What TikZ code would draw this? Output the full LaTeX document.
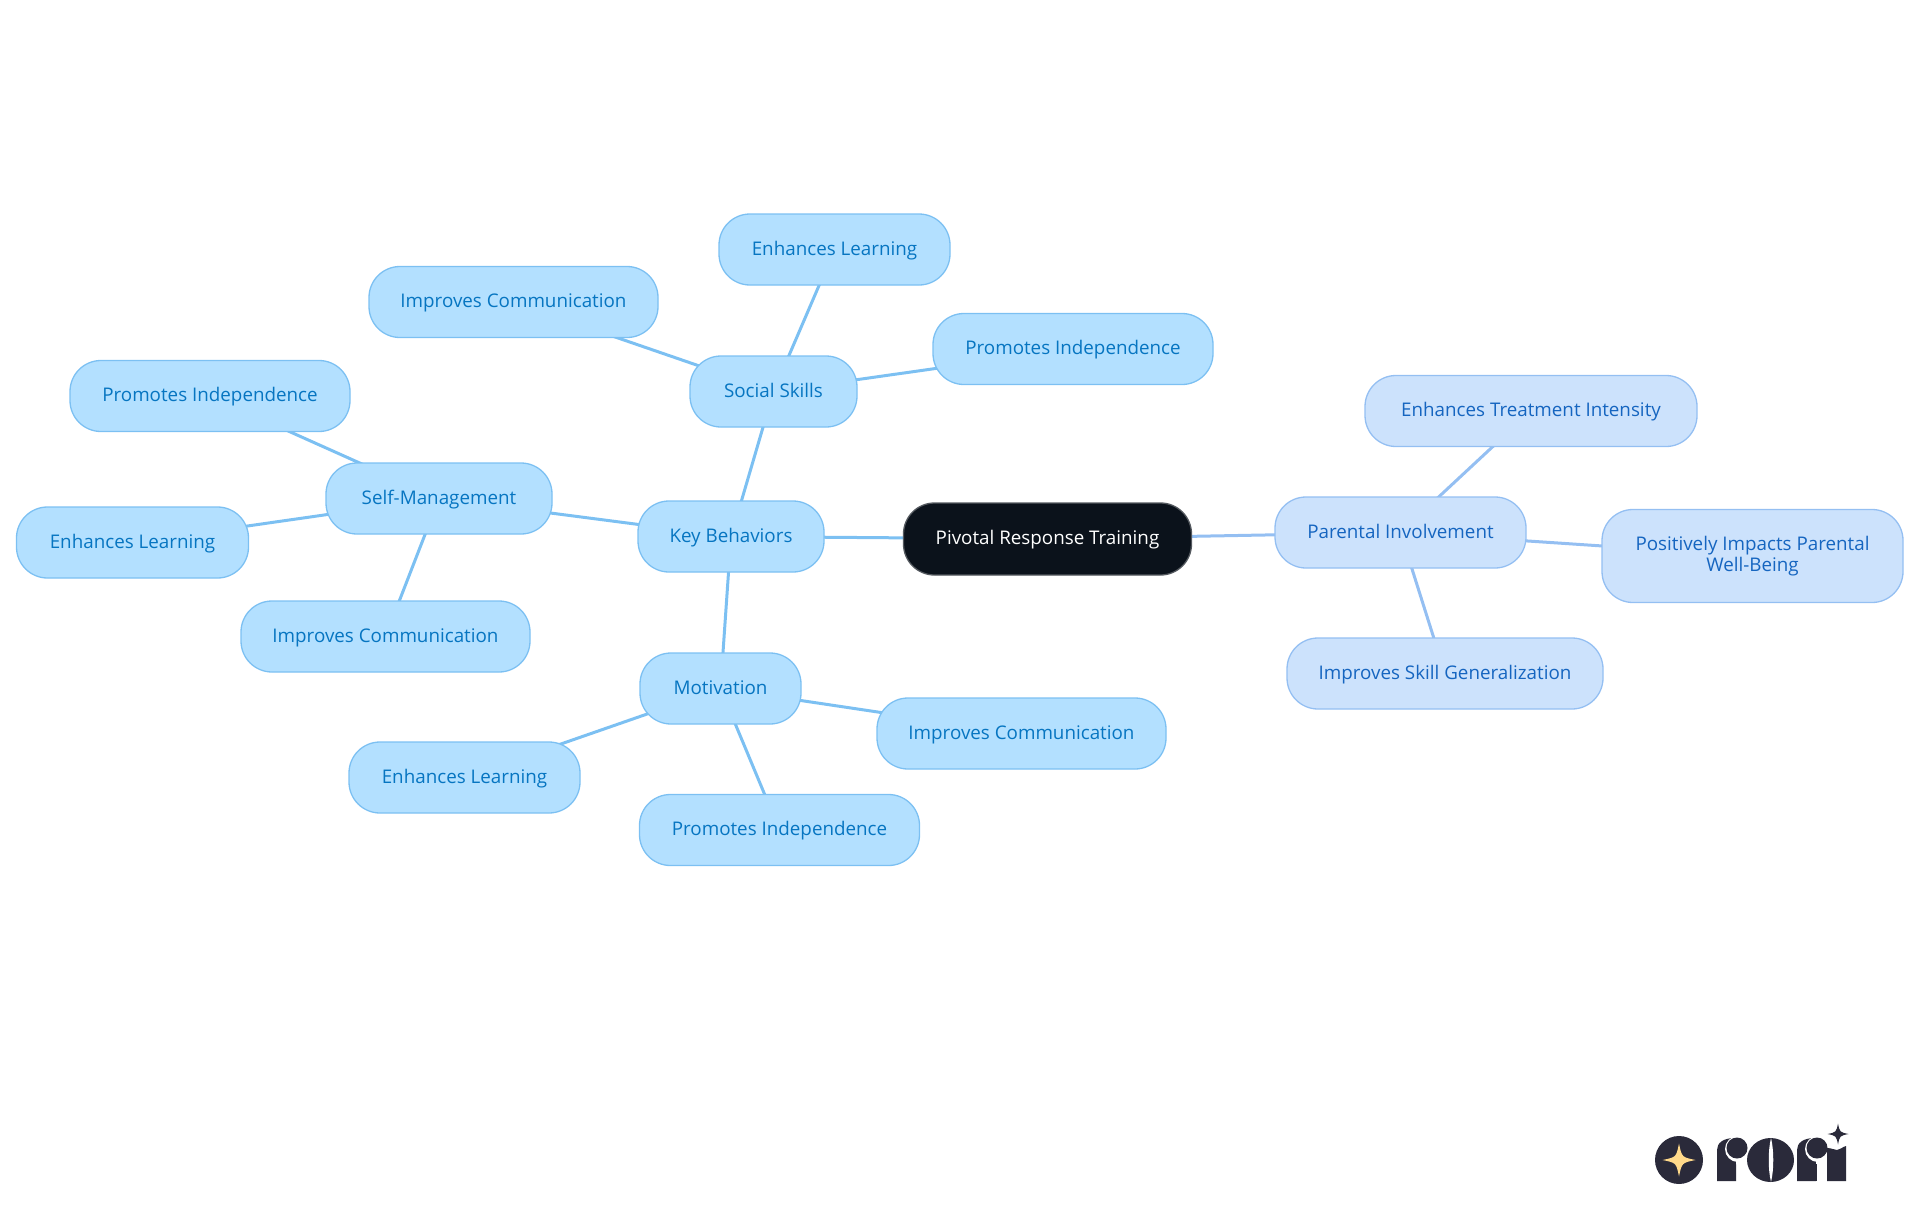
\documentclass[tikz,border=0pt]{standalone}
\usepackage{fontspec}
\setmainfont{Open Sans}
\usetikzlibrary{backgrounds}
\definecolor{leaffill}{HTML}{B3E0FF}
\definecolor{leafline}{HTML}{7CC0F2}
\definecolor{leaftext}{HTML}{0675C1}
\definecolor{parfill}{HTML}{CCE2FC}
\definecolor{parline}{HTML}{94BFF2}
\definecolor{partext}{HTML}{1565C0}
\definecolor{rootfill}{HTML}{0B121B}
\definecolor{logodark}{HTML}{2A2A3A}
\definecolor{logogold}{HTML}{FFD98A}
\tikzset{
  box/.style={rectangle,rounded corners=31pt,minimum height=71pt,inner sep=0pt,line width=1.3pt,align=center,font=\fontsize{18.8}{21}\selectfont},
  oneline/.style={text height=15pt,text depth=4pt},
  leaf/.style={box,oneline,draw=leafline,fill=leaffill,text=leaftext},
  par/.style={box,oneline,draw=parline,fill=parfill,text=partext},
  partwo/.style={box,draw=parline,fill=parfill,text=partext},
  rootbox/.style={box,oneline,draw=rootfill!70!white,fill=rootfill,text=white},
  link/.style={line width=3pt,draw=leafline},
  plink/.style={line width=3pt,draw=parline},
  logo/.style={fill=logodark,draw=none},
  halo/.style={fill=white,draw=none}
}
\newcommand{\fourstar}[4]{\fill[#4] (#1,#2-#3) .. controls (#1+0.17*#3,#2-0.17*#3) .. (#1+#3,#2) .. controls (#1+0.17*#3,#2+0.17*#3) .. (#1,#2+#3) .. controls (#1-0.17*#3,#2+0.17*#3) .. (#1-#3,#2) .. controls (#1-0.17*#3,#2-0.17*#3) .. cycle;}
\begin{document}
\begin{tikzpicture}[x=1pt,y=-1pt]
\useasboundingbox (0,0) rectangle (1920,1215);
\node[rootbox,minimum width=288pt,minimum height=72pt] (root) at (1047.5,539) {Pivotal Response Training};
\node[leaf,minimum width=186pt] (key) at (731,536.5) {Key Behaviors};
\node[leaf,minimum width=167pt] (social) at (773.5,391.5) {Social Skills};
\node[leaf,minimum width=226pt] (selfm) at (439,498.5) {Self-Management};
\node[leaf,minimum width=161pt] (motiv) at (720.5,688.5) {Motivation};
\node[leaf,minimum width=231pt] (sL) at (834.5,249.5) {Enhances Learning};
\node[leaf,minimum width=289pt] (sC) at (513.5,302) {Improves Communication};
\node[leaf,minimum width=280pt] (sP) at (1073,349) {Promotes Independence};
\node[leaf,minimum width=280pt] (mP) at (210,396) {Promotes Independence};
\node[leaf,minimum width=232pt] (mL) at (132.5,542.5) {Enhances Learning};
\node[leaf,minimum width=289pt] (mC) at (385.5,636.5) {Improves Communication};
\node[leaf,minimum width=231pt] (vL) at (464.5,777.5) {Enhances Learning};
\node[leaf,minimum width=280pt] (vP) at (779.5,830) {Promotes Independence};
\node[leaf,minimum width=289pt] (vC) at (1021.5,733.5) {Improves Communication};
\node[par,minimum width=251pt] (par) at (1400.5,532.5) {Parental Involvement};
\node[par,minimum width=332pt] (pT) at (1531,411) {Enhances Treatment Intensity};
\node[partwo,minimum width=301pt,minimum height=93pt] (pW) at (1752.5,556) {Positively Impacts Parental\\Well-Being};
\node[par,minimum width=316pt] (pS) at (1445,673.5) {Improves Skill Generalization};
\begin{scope}[on background layer]
\draw[link] (root.center) -- (key.center);
\draw[link] (key.center) -- (social.center);
\draw[link] (key.center) -- (selfm.center);
\draw[link] (key.center) -- (motiv.center);
\draw[link] (social.center) -- (sL.center);
\draw[link] (social.center) -- (sC.center);
\draw[link] (social.center) -- (sP.center);
\draw[link] (selfm.center) -- (mP.center);
\draw[link] (selfm.center) -- (mL.center);
\draw[link] (selfm.center) -- (mC.center);
\draw[link] (motiv.center) -- (vL.center);
\draw[link] (motiv.center) -- (vP.center);
\draw[link] (motiv.center) -- (vC.center);
\draw[plink] (root.center) -- (par.center);
\draw[plink] (par.center) -- (pT.center);
\draw[plink] (par.center) -- (pW.center);
\draw[plink] (par.center) -- (pS.center);
\end{scope}
% logo
\fill[logo] (1679,1160) circle (24);
\fourstar{1679}{1160}{16.5}{logogold}
\fill[logo] (1717,1181) -- (1717,1150) .. controls (1717,1143) and (1723,1138) .. (1735,1138) -- (1736,1165) -- (1736,1181) -- cycle;
\fill[halo] (1738,1149) circle (13);
\fill[logo] (1737,1148) circle (10.5);
\fill[logo] (1717,1181) rectangle (1736,1164);
\fill[logo] (1770.5,1160) ellipse (23.5 and 22);
\fill[halo] (1771,1138) .. controls (1768,1150) and (1768,1170) .. (1771,1182) .. controls (1774,1170) and (1774,1150) .. (1771,1138) -- cycle;
\fill[logo] (1797,1181) -- (1797,1150) .. controls (1797,1143) and (1803,1138) .. (1815,1138) -- (1816,1165) -- (1816,1181) -- cycle;
\fill[halo] (1818,1149) circle (13);
\fill[logo] (1817,1148) circle (10.5);
\fill[logo] (1797,1181) rectangle (1817,1164);
\fill[logo] (1827,1181) -- (1827,1148) .. controls (1832,1148) and (1834,1150) .. (1837,1150) .. controls (1840,1150) and (1842,1147) .. (1846,1146) -- (1846,1181) -- cycle;
\fourstar{1838}{1134}{10.5}{logodark}
\end{tikzpicture}
\end{document}
